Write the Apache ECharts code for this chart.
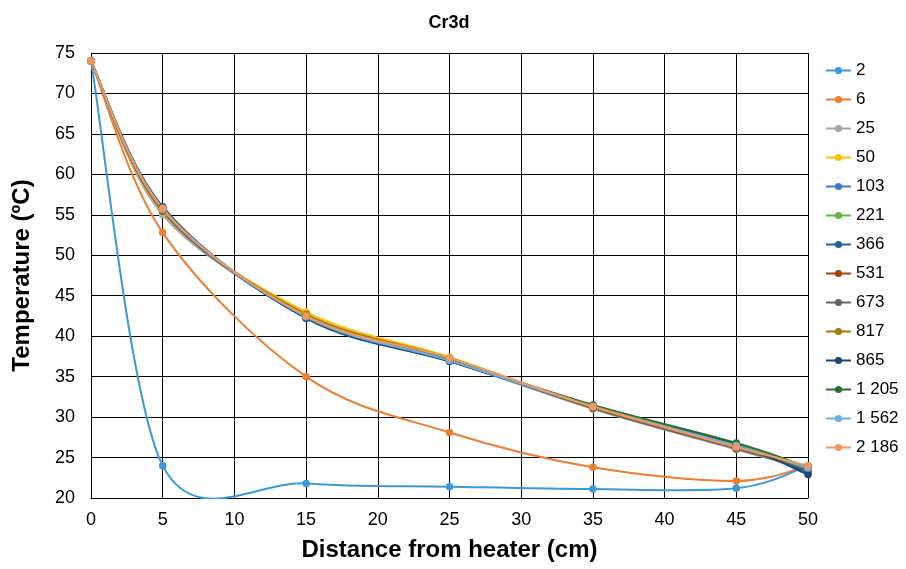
<!DOCTYPE html>
<html>
<head>
<meta charset="utf-8">
<script src="https://cdn.jsdelivr.net/npm/echarts@6/dist/echarts.min.js"></script>
<style>html,body{margin:0;padding:0;background:#fff}#c{width:906px;height:569px}</style>
</head>
<body>
<div id="c"></div>
<script>
const distances = [0, 5, 15, 25, 35, 45, 50];
const seriesNames = ['2', '6', '25', '50', '103', '221', '366', '531', '673', '817', '865', '1 205', '1 562', '2 186'];
const s2    = [74, 24.0, 21.8, 21.4, 21.1, 21.2, 24.0];
const s6    = [74, 52.8, 35.0, 28.1, 23.8, 22.1, 24.0];
const s25   = [74, 55.0, 42.9, 37.0, 31.0, 26.0, 23.5];
const s50   = [74, 55.3, 43.0, 37.4, 31.2, 26.3, 23.7];
const s103  = [74, 55.6, 42.3, 37.0, 31.3, 26.5, 23.5];
const s221  = [74, 55.6, 42.6, 37.2, 31.3, 26.5, 23.6];
const s366  = [74, 56.0, 42.2, 36.9, 31.4, 26.6, 23.2];
const s531  = [74, 55.7, 42.5, 37.2, 31.3, 26.4, 23.6];
const s673  = [74, 55.4, 42.6, 37.1, 31.1, 26.1, 23.6];
const s817  = [74, 55.6, 42.7, 37.3, 31.2, 26.3, 23.7];
const s865  = [74, 55.9, 42.3, 36.9, 31.4, 26.6, 22.9];
const s1205 = [74, 55.8, 42.4, 37.1, 31.5, 26.8, 23.8];
const s1562 = [74, 55.7, 42.4, 37.0, 31.3, 26.5, 23.7];
const s2186 = [74, 55.8, 42.5, 37.3, 31.3, 26.3, 24.0];
const allValues = [s2, s6, s25, s50, s103, s221, s366, s531, s673, s817, s865, s1205, s1562, s2186];
const colors = ['#3A9AD9', '#ED7D31', '#A5A5A5', '#FFC000', '#3F78C6', '#5CB94A', '#1F62A0', '#A3440F', '#636363', '#A37A0B', '#1F4478', '#2E6E2E', '#6CB1E4', '#F4975C'];

const FONT = 'Liberation Sans, Arial, sans-serif';
const chart = echarts.init(document.getElementById('c'), null, {renderer: 'canvas'});

function dist(a, b) { return Math.hypot(a[0] - b[0], a[1] - b[1]); }

// Excel-style smoothing: tangent = (next - prev) * f, f = 1/6, capped at half the shorter neighbouring segment
function tangentAt(pts, i) {
  const n = pts.length;
  const prev = pts[Math.max(i - 1, 0)], cur = pts[i], next = pts[Math.min(i + 1, n - 1)];
  const d02 = dist(prev, next);
  if (d02 === 0) return [0, 0];
  let f = 1 / 6;
  const d01 = dist(prev, cur), d12 = dist(cur, next);
  const lim = Math.min(d01 > 0 ? d01 : Infinity, d12 > 0 ? d12 : Infinity) / 2;
  if (d02 * f > lim) f = lim / d02;
  return [(next[0] - prev[0]) * f, (next[1] - prev[1]) * f];
}

function curveRenderer(vals, color) {
  return function (params, api) {
    if (params.dataIndex !== 0) return null;
    const pts = distances.map((d, j) => api.coord([d, vals[j]]));
    const tans = pts.map((p, j) => tangentAt(pts, j));
    const children = [];
    for (let j = 0; j < pts.length - 1; j++) {
      const p1 = pts[j], p2 = pts[j + 1], t1 = tans[j], t2 = tans[j + 1];
      children.push({
        type: 'bezierCurve',
        shape: {
          x1: p1[0], y1: p1[1], x2: p2[0], y2: p2[1],
          cpx1: p1[0] + t1[0], cpy1: p1[1] + t1[1],
          cpx2: p2[0] - t2[0], cpy2: p2[1] - t2[1]
        },
        style: {stroke: color, lineWidth: 2, fill: null, lineCap: 'round', lineJoin: 'round'}
      });
    }
    const cs = params.coordSys;
    return {
      type: 'group',
      clipPath: {type: 'rect', shape: {x: cs.x, y: cs.y - 2, width: cs.width, height: cs.height + 3}},
      children: children
    };
  };
}

const series = [];
seriesNames.forEach((n, i) => {
  const data = distances.map((d, j) => [d, allValues[i][j]]);
  series.push({
    name: n + ' curve',
    type: 'custom',
    renderItem: curveRenderer(allValues[i], colors[i]),
    data: data,
    itemStyle: {color: colors[i]},
    silent: true
  });
  series.push({
    name: n,
    type: 'line',
    symbol: 'circle',
    symbolSize: 7.5,
    showSymbol: true,
    data: data,
    lineStyle: {width: 2, color: colors[i], opacity: 0},
    itemStyle: {color: colors[i]},
    emphasis: {disabled: true}
  });
});

chart.setOption({
  animation: false,
  backgroundColor: '#fff',
  title: {
    text: 'Cr3d', left: 444, top: 9, textAlign: 'center',
    textStyle: {fontFamily: FONT, fontSize: 18, fontWeight: 'bold', color: '#000'}
  },
  legend: {
    orient: 'vertical', left: 820, top: 57,
    itemWidth: 25, itemHeight: 9, itemGap: 12,
    lineStyle: {opacity: 1, width: 2},
    textStyle: {fontFamily: FONT, fontSize: 17, color: '#000'},
    data: seriesNames
  },
  grid: {left: 91, right: 98, top: 53, bottom: 71, containLabel: false},
  xAxis: {
    type: 'value', min: 0, max: 50, interval: 5,
    name: 'Distance from heater (cm)', nameLocation: 'middle', nameGap: 40,
    nameTextStyle: {fontFamily: FONT, fontSize: 24, fontWeight: 'bold', color: '#000'},
    axisLine: {show: true, lineStyle: {color: '#000', width: 1}},
    axisTick: {show: false},
    axisLabel: {fontFamily: FONT, fontSize: 18, color: '#000', margin: 13},
    splitLine: {show: true, lineStyle: {color: '#000', width: 1}}
  },
  yAxis: {
    type: 'value', min: 20, max: 75, interval: 5,
    name: 'Temperature (ºC)', nameLocation: 'middle', nameGap: 57,
    nameTextStyle: {fontFamily: FONT, fontSize: 24, fontWeight: 'bold', color: '#000'},
    axisLine: {show: true, lineStyle: {color: '#000', width: 1}},
    axisTick: {show: false},
    axisLabel: {fontFamily: FONT, fontSize: 18, color: '#000', margin: 16},
    splitLine: {show: true, lineStyle: {color: '#000', width: 1}}
  },
  series: series
});
</script>
</body>
</html>
